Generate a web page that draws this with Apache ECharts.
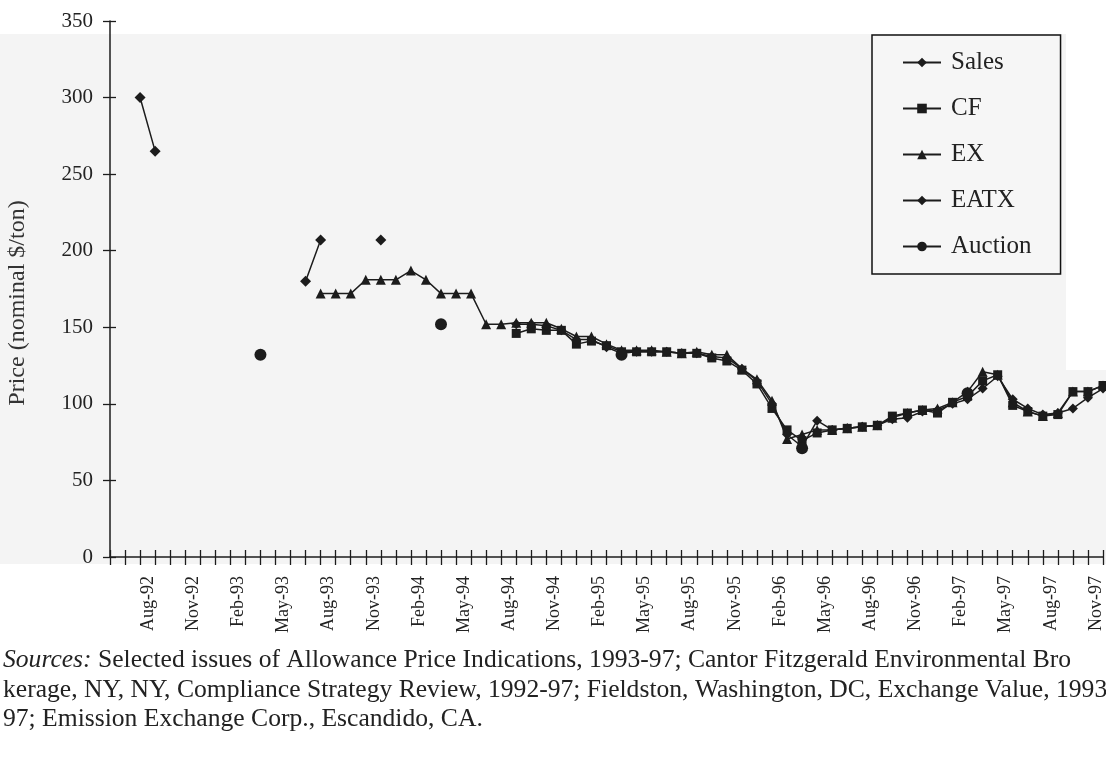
<!DOCTYPE html>
<html>
<head>
<meta charset="utf-8">
<script src="https://cdn.jsdelivr.net/npm/echarts@6/dist/echarts.min.js"></script>
<style>
  html, body { margin: 0; padding: 0; background: #fff; }
  #main { width: 1106px; height: 757px; }
</style>
</head>
<body>
<div id="main"></div>
<script>
// monthly categories, Jun-92 .. Dec-97
var months = ['Jun-92','Jul-92','Aug-92','Sep-92','Oct-92','Nov-92','Dec-92',
  'Jan-93','Feb-93','Mar-93','Apr-93','May-93','Jun-93','Jul-93','Aug-93','Sep-93','Oct-93','Nov-93','Dec-93',
  'Jan-94','Feb-94','Mar-94','Apr-94','May-94','Jun-94','Jul-94','Aug-94','Sep-94','Oct-94','Nov-94','Dec-94',
  'Jan-95','Feb-95','Mar-95','Apr-95','May-95','Jun-95','Jul-95','Aug-95','Sep-95','Oct-95','Nov-95','Dec-95',
  'Jan-96','Feb-96','Mar-96','Apr-96','May-96','Jun-96','Jul-96','Aug-96','Sep-96','Oct-96','Nov-96','Dec-96',
  'Jan-97','Feb-97','Mar-97','Apr-97','May-97','Jun-97','Jul-97','Aug-97','Sep-97','Oct-97','Nov-97','Dec-97'];

var _ = null;
var sales = [_, _, 300, 265, _, _, _,
  _, _, _, _, _, _, 180, 207, _, _, _, 207,
  _, _, _, _, _, _, _, _, _, _, _, _,
  _, _, _, _, _, _, _, _, _, _, _, _,
  _, _, _, _, _, _, _, _, _, _, _, _,
  _, _, _, _, _, _, _, _, _, _, _, _];

var cf = [_, _, _, _, _, _, _,
  _, _, _, _, _, _, _, _, _, _, _, _,
  _, _, _, _, _, _, _, _, 146, 149, 148, 148,
  139, 141, 138, 134, 134, 134, 134, 133, 133, 130, 128, 122,
  113, 97, 83, 76, 81, 83, 84, 85, 86, 92, 94, 96,
  94, 101, 105, 115, 119, 99, 95, 92, 93, 108, 108, 112];

var ex = [_, _, _, _, _, _, _,
  _, _, _, _, _, _, _, 172, 172, 172, 181, 181,
  181, 187, 181, 172, 172, 172, 152, 152, 153, 153, 153, 149,
  144, 144, 139, 135, 135, 135, 134, 133, 134, 132, 132, 123,
  116, 102, 77, 80, 83, 83, 84, 85, 86, 91, 94, 96,
  97, 101, 108, 121, 119, 101, 95, 92, 94, 108, 108, 112];

var eatx = [_, _, _, _, _, _, _,
  _, _, _, _, _, _, _, _, _, _, _, _,
  _, _, _, _, _, _, _, _, 152, 152, 151, 148,
  142, 142, 137, 133, 134, 134, 134, 133, 133, 131, 130, 123,
  115, 100, 80, 72, 89, 83, 84, 85, 86, 90, 91, 95,
  96, 100, 103, 110, 118, 103, 97, 93, 94, 97, 104, 110];

var auction = [_, _, _, _, _, _, _,
  _, _, _, 132, _, _, _, _, _, _, _, _,
  _, _, _, 152, _, _, _, _, _, _, _, _,
  _, _, _, 132, _, _, _, _, _, _, _, _,
  _, _, _, 71, _, _, _, _, _, _, _, _,
  _, _, 107, _, _, _, _, _, _, _, _, _];

var yTicks = { min: 0, max: 350, step: 50 };

var ink = '#1c1c1c';
var serif = '"Liberation Serif", "DejaVu Serif", serif';

function lineSeries(name, data, symbol, size) {
  return {
    name: name,
    type: 'line',
    data: data,
    symbol: symbol,
    symbolSize: size,
    showAllSymbol: true,
    connectNulls: false,
    itemStyle: { color: ink },
    lineStyle: { color: ink, width: 1.5 },
    animation: false
  };
}

var tickStyle = { color: ink, width: 1.3 };

var chart = echarts.init(document.getElementById('main'));
chart.setOption({
  backgroundColor: '#ffffff',
  textStyle: { fontFamily: serif },
  grid: { left: 110, top: 21, right: 3, bottom: 200, containLabel: false, outerBoundsMode: 'none' },
  legend: {
    orient: 'vertical',
    left: 872, top: 35,
    padding: [15, 29, 15, 30],
    itemGap: 21,
    itemWidth: 38, itemHeight: 12,
    borderColor: '#111', borderWidth: 1.5,
    backgroundColor: '#f6f6f6',
    textStyle: { fontFamily: serif, fontSize: 25, color: '#222', padding: [0, 0, 0, 5] },
    data: ['Sales', 'CF', 'EX', 'EATX', 'Auction']
  },
  xAxis: [{
    type: 'category',
    data: months,
    boundaryGap: false,
    axisLine: { lineStyle: { color: ink, width: 1.5 } },
    axisTick: { show: true, interval: 0, length: 8, lineStyle: tickStyle },
    axisLabel: {
      interval: function (i) { return (i - 2) % 3 === 0; },
      rotate: 90,
      margin: 19,
      verticalAlign: 'top',
      lineHeight: 16,
      fontFamily: serif, fontSize: 18, color: '#222'
    },
    splitLine: { show: false }
  }, {
    // inner half of the crossing ticks
    type: 'category',
    data: months,
    position: 'bottom',
    boundaryGap: false,
    axisLine: { show: false },
    axisTick: { show: true, inside: true, interval: 0, length: 7, lineStyle: tickStyle },
    axisLabel: { show: false },
    splitLine: { show: false }
  }],
  yAxis: [{
    type: 'value',
    min: yTicks.min, max: yTicks.max, interval: yTicks.step,
    name: 'Price (nominal $/ton)',
    nameLocation: 'middle',
    nameGap: 80,
    nameTextStyle: { fontFamily: serif, fontSize: 24, color: '#333', padding: [0, 28, 0, 0] },
    axisLine: { show: true, lineStyle: { color: ink, width: 1.5 } },
    axisTick: { show: true, length: 7, lineStyle: tickStyle },
    axisLabel: { margin: 17, fontFamily: serif, fontSize: 21, color: '#222' },
    splitLine: { show: false }
  }, {
    type: 'value',
    position: 'left',
    min: yTicks.min, max: yTicks.max, interval: yTicks.step,
    axisLine: { show: false },
    axisTick: { show: true, inside: true, length: 6, lineStyle: tickStyle },
    axisLabel: { show: false },
    splitLine: { show: false }
  }],
  graphic: [
    {
      type: 'rect', z: -10, silent: true,
      shape: { x: 0, y: 34, width: 1066, height: 530 },
      style: { fill: '#f4f4f4' }
    },
    {
      type: 'rect', z: -10, silent: true,
      shape: { x: 1066, y: 370, width: 40, height: 194 },
      style: { fill: '#f4f4f4' }
    },
    {
      type: 'text', left: 3, top: 646, z: 10,
      style: {
        text: '{i|Sources:} Selected issues of Allowance Price Indications, 1993-97; Cantor Fitzgerald Environmental Bro\n' +
              'kerage, NY, NY, Compliance Strategy Review, 1992-97; Fieldston, Washington, DC, Exchange Value, 1993-\n' +
              '97; Emission Exchange Corp., Escandido, CA.',
        font: '25.6px ' + serif,
        fill: '#222',
        lineHeight: 29.5,
        rich: {
          i: { fontStyle: 'italic', fontFamily: serif, fontSize: 25.6, fill: '#222', lineHeight: 29.5 }
        }
      }
    }
  ],
  series: [
    lineSeries('Sales', sales, 'diamond', 11),
    lineSeries('CF', cf, 'rect', 9),
    lineSeries('EX', ex, 'triangle', 10),
    lineSeries('EATX', eatx, 'diamond', 10),
    lineSeries('Auction', auction, 'circle', 12)
  ]
});
</script>
</body>
</html>
